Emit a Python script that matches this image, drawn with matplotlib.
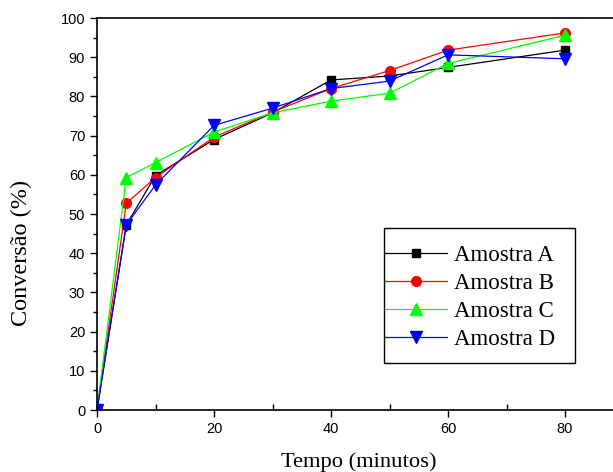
import matplotlib
matplotlib.use('Agg')
import matplotlib.pyplot as plt
from matplotlib.ticker import MultipleLocator
from matplotlib.patches import Rectangle

tempo = [0, 5, 10, 20, 30, 40, 50, 60, 80]
amostra_a = [0, 47.2, 59.8, 69.0, 75.8, 84.2, 85.2, 87.4, 91.8]
amostra_b = [0, 52.7, 59.3, 69.6, 76.0, 82.0, 86.6, 91.8, 96.2]
amostra_c = [0, 59.3, 63.1, 70.9, 75.8, 78.8, 80.8, 88.4, 95.6]
amostra_d = [0, 47.2, 57.4, 72.6, 77.0, 82.0, 83.9, 90.6, 89.6]

# nome, valores, cor, marcador, tamanho
series = [
    ('Amostra A', amostra_a, 'black', 's', 6),
    ('Amostra B', amostra_b, '#ff0000', 'o', 7),
    ('Amostra C', amostra_c, '#00ff00', '^', 8),
    ('Amostra D', amostra_d, '#0000ff', 'v', 8),
]

W, H = 613, 472
fig = plt.figure(figsize=(W/100, H/100), dpi=100)
# eixo vai um pouco além da borda direita, como no original
ax = fig.add_axes([97/W, 62/H, 526.5/W, 392/H])

for nome, valores, cor, marc, ms in series:
    ax.plot(tempo, valores, color=cor, marker=marc, markersize=ms,
            linewidth=0.9, label=nome)

ax.set_xlim(0, 90)
ax.set_ylim(0, 100)
ax.xaxis.set_major_locator(MultipleLocator(20))
ax.xaxis.set_minor_locator(MultipleLocator(10))
ax.yaxis.set_major_locator(MultipleLocator(10))
ax.yaxis.set_minor_locator(MultipleLocator(5))
ax.tick_params(axis='both', which='major', direction='out', length=5,
               width=1, labelsize=10.5)
ax.tick_params(axis='x', which='minor', direction='in', length=4, width=1)
ax.tick_params(axis='y', which='minor', direction='out', length=3, width=1)
for lab in ax.get_xticklabels() + ax.get_yticklabels():
    lab.set_family('Liberation Sans')
for s in ['left', 'bottom', 'top']:
    ax.spines[s].set_linewidth(1.2)
ax.spines['right'].set_visible(False)

fig.text(359/W, 1 - 462/H, 'Tempo (minutos)', family='Liberation Serif',
         fontsize=16.2, ha='center', va='center')
fig.text(21/W, 1 - 253/H, 'Conversão (%)', family='Liberation Serif',
         fontsize=17.5, rotation=90, ha='center', va='center')

# legenda sem moldura; a caixa é desenhada à parte
leg = ax.legend(loc='upper left', bbox_to_anchor=(385/W, 1 - 245/H),
                bbox_transform=fig.transFigure,
                prop={'family': 'Liberation Serif', 'size': 16.5},
                frameon=False, handlelength=2.7, handletextpad=0.3,
                borderpad=0, labelspacing=0.31, borderaxespad=0)
fig.patches.append(Rectangle((384/W, 1 - 363/H), (575-384)/W, (363-228)/H,
                             transform=fig.transFigure, fill=True,
                             facecolor='none', edgecolor='black',
                             linewidth=1.0, zorder=5))

fig.savefig('out.png', dpi=100)
